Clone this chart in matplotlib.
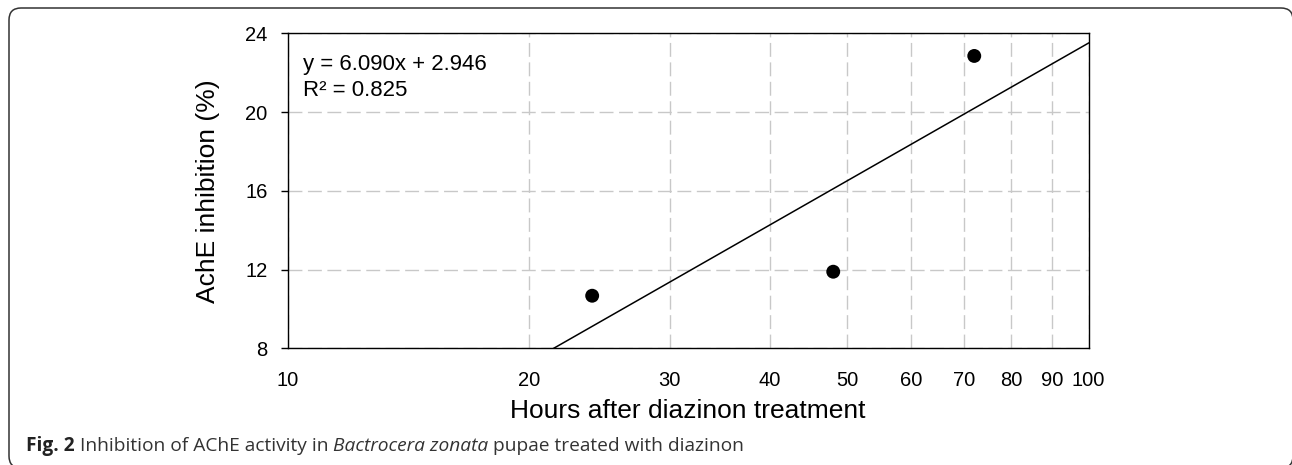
import numpy as np
import matplotlib
matplotlib.use("Agg")
import matplotlib.pyplot as plt
from matplotlib.patches import FancyBboxPatch
from matplotlib.ticker import FixedLocator, NullFormatter, FixedFormatter

# Data
hours = [24, 48, 72]
inhibition = [10.67, 11.89, 22.85]
x_ticks = [10, 20, 30, 40, 50, 60, 70, 80, 90, 100]
x_tick_labels = ["10", "20", "30", "40", "50", "60", "70", "80", "90", "100"]
y_ticks = [8, 12, 16, 20, 24]
equation_text = "y = 6.090x + 2.946"
r2_text = "R² = 0.825"
x_label = "Hours after diazinon treatment"
y_label = "AchE inhibition (%)"

plt.rcParams['font.family'] = ['Liberation Sans', 'DejaVu Sans']

W, H = 1292, 465
fig = plt.figure(figsize=(W / 100, H / 100), dpi=100)
ax = fig.add_axes([287.7 / W, 1 - 348.3 / H, (1088.5 - 287.7) / W, (348.3 - 33.3) / H])

ax.set_xscale('log')
ax.set_xlim(10, 100)
ax.set_ylim(8, 24)

# Trend line (fit in log space, as displayed)
coef = np.polyfit(np.log10(hours), inhibition, 1)
xs = np.logspace(1, 2, 200)
ax.plot(xs, np.polyval(coef, np.log10(xs)), color='black', lw=1.1, zorder=3)

ax.scatter(hours, inhibition, s=10 ** 2, color='black', zorder=4, edgecolors='none')

# Ticks
ax.xaxis.set_major_locator(FixedLocator(x_ticks))
ax.xaxis.set_major_formatter(FixedFormatter(x_tick_labels))
ax.xaxis.set_minor_locator(FixedLocator([10, 100]))
ax.xaxis.set_minor_formatter(NullFormatter())
ax.tick_params(axis='x', which='major', length=0, pad=16, labelsize=14.5, colors='black')
ax.tick_params(axis='x', which='minor', length=5, width=1, direction='out')
ax.set_yticks(y_ticks)
ax.tick_params(axis='y', which='major', length=5, width=1, pad=9.5, labelsize=14.5)
ax.tick_params(axis='y', which='minor', length=0)

for sp in ax.spines.values():
    sp.set_linewidth(1.0)
    sp.set_color('black')

ax.grid(True, which='major', axis='both', color='#c8c8c8', lw=1.0,
        linestyle=(0, (10, 4)), zorder=0)
ax.set_axisbelow(True)

ax.set_xlabel(x_label, fontsize=19)
ax.xaxis.set_label_coords(0.5, -0.16)
ax.set_ylabel(y_label, fontsize=19)
ax.yaxis.set_label_coords(-0.0845, 0.5)

# Equation text
fig.text(303 / W, 1 - 70 / H, equation_text, fontsize=16, ha='left', va='baseline')
fig.text(303 / W, 1 - 95.5 / H, r2_text, fontsize=16, ha='left', va='baseline')

# Outer rounded box (display pixels)
box = FancyBboxPatch((9, -3), 1284, 460, boxstyle="round,pad=0,rounding_size=12",
                     transform=None, fill=False, edgecolor='#333333', lw=1.1,
                     clip_on=False)
fig.patches.append(box)

# Caption
fig.canvas.draw()
renderer = fig.canvas.get_renderer()
cap_y = 1 - 451 / H
parts = [("Fig. 2", 'bold', 'normal', '#222222'),
         (" Inhibition of AChE activity in ", 'normal', 'normal', '#333333'),
         ("Bactrocera zonata", 'normal', 'italic', '#333333'),
         (" pupae treated with diazinon", 'normal', 'normal', '#333333')]
xpos = 26
for txt, wt, st, col in parts:
    t = fig.text(xpos / W, cap_y, txt, fontsize=13.8, fontweight=wt, fontstyle=st,
                 color=col, ha='left', va='baseline',
                 family=['Open Sans', 'DejaVu Sans'])
    bb = t.get_window_extent(renderer=renderer)
    xpos = bb.x1

fig.savefig("out.png", dpi=100)
